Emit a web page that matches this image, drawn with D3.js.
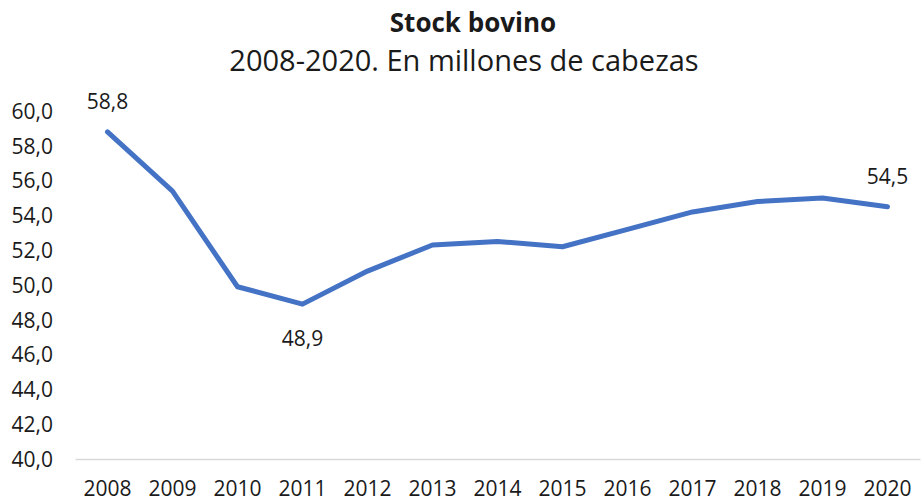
<!DOCTYPE html>
<html>
<head>
<meta charset="utf-8">
<script src="https://cdn.jsdelivr.net/npm/d3@7"></script>
<style>
  body { margin: 0; background: #fff; }
  text { font-family: "Open Sans", sans-serif; fill: #1a1a1a; }
</style>
</head>
<body>
<svg id="chart" width="922" height="501"></svg>
<script>
// data
var years = ["2008", "2009", "2010", "2011", "2012", "2013", "2014", "2015", "2016", "2017", "2018", "2019", "2020"];
var stock = [58.8, 55.4, 49.9, 48.9, 50.8, 52.3, 52.5, 52.2, 53.2, 54.2, 54.8, 55.0, 54.5];
var yTicks = [40, 42, 44, 46, 48, 50, 52, 54, 56, 58, 60];
var labelled = ["2008", "2011", "2020"];

var width = 922, height = 501;
var margin = { top: 111, right: 2, bottom: 42, left: 75 };

var fmt = d3.formatLocale({ decimal: ",", thousands: ".", grouping: [3], currency: ["$", ""] }).format(".1f");

var svg = d3.select("#chart");

var x = d3.scaleBand()
  .domain(years)
  .range([margin.left, width - margin.right]);

var y = d3.scaleLinear()
  .domain([40, 60])
  .range([height - margin.bottom, margin.top]);

// titles
svg.append("text")
  .attr("x", 473).attr("y", 32)
  .attr("text-anchor", "middle")
  .style("font-size", "26px").style("font-weight", "bold")
  .text("Stock bovino");
svg.append("text")
  .attr("x", 464).attr("y", 71)
  .attr("text-anchor", "middle")
  .style("font-size", "29px")
  .text("2008-2020. En millones de cabezas");

// y axis (labels only)
var yAxis = svg.append("g")
  .attr("transform", "translate(" + (margin.left - 22) + ",0)")
  .call(d3.axisLeft(y).tickValues(yTicks).tickFormat(fmt).tickSize(0).tickPadding(0));
yAxis.select(".domain").remove();
yAxis.selectAll("text")
  .style("font-size", "21px")
  .style("font-family", "'Open Sans', sans-serif")
  .attr("fill", "#1a1a1a")
  .attr("dy", "0.35em");

// x axis
var xAxis = svg.append("g")
  .attr("transform", "translate(0," + y(40) + ")")
  .call(d3.axisBottom(x).tickSize(0).tickPadding(22));
xAxis.select(".domain")
  .attr("stroke", "#d9d9d9")
  .attr("stroke-width", 1.5);
xAxis.selectAll("text")
  .style("font-size", "21px")
  .style("font-family", "'Open Sans', sans-serif")
  .attr("fill", "#1a1a1a");

// line
var line = d3.line()
  .x(function (d, i) { return x(years[i]) + x.bandwidth() / 2; })
  .y(function (d) { return y(d); });

svg.append("path")
  .datum(stock)
  .attr("d", line)
  .attr("fill", "none")
  .attr("stroke", "#4472C4")
  .attr("stroke-width", 5)
  .attr("stroke-linejoin", "round")
  .attr("stroke-linecap", "round");

// data labels
svg.selectAll(".dlabel")
  .data(stock.filter(function (d, i) { return labelled.indexOf(years[i]) >= 0; }))
  .enter()
  .append("text")
  .attr("class", "dlabel")
  .attr("text-anchor", "middle")
  .style("font-size", "21px")
  .attr("x", function (d) {
    var i = stock.indexOf(d);
    return x(years[i]) + x.bandwidth() / 2;
  })
  .attr("y", function (d) {
    var i = stock.indexOf(d);
    return years[i] === "2011" ? y(d) + 42 : y(d) - 23;
  })
  .text(fmt);
</script>
</body>
</html>
